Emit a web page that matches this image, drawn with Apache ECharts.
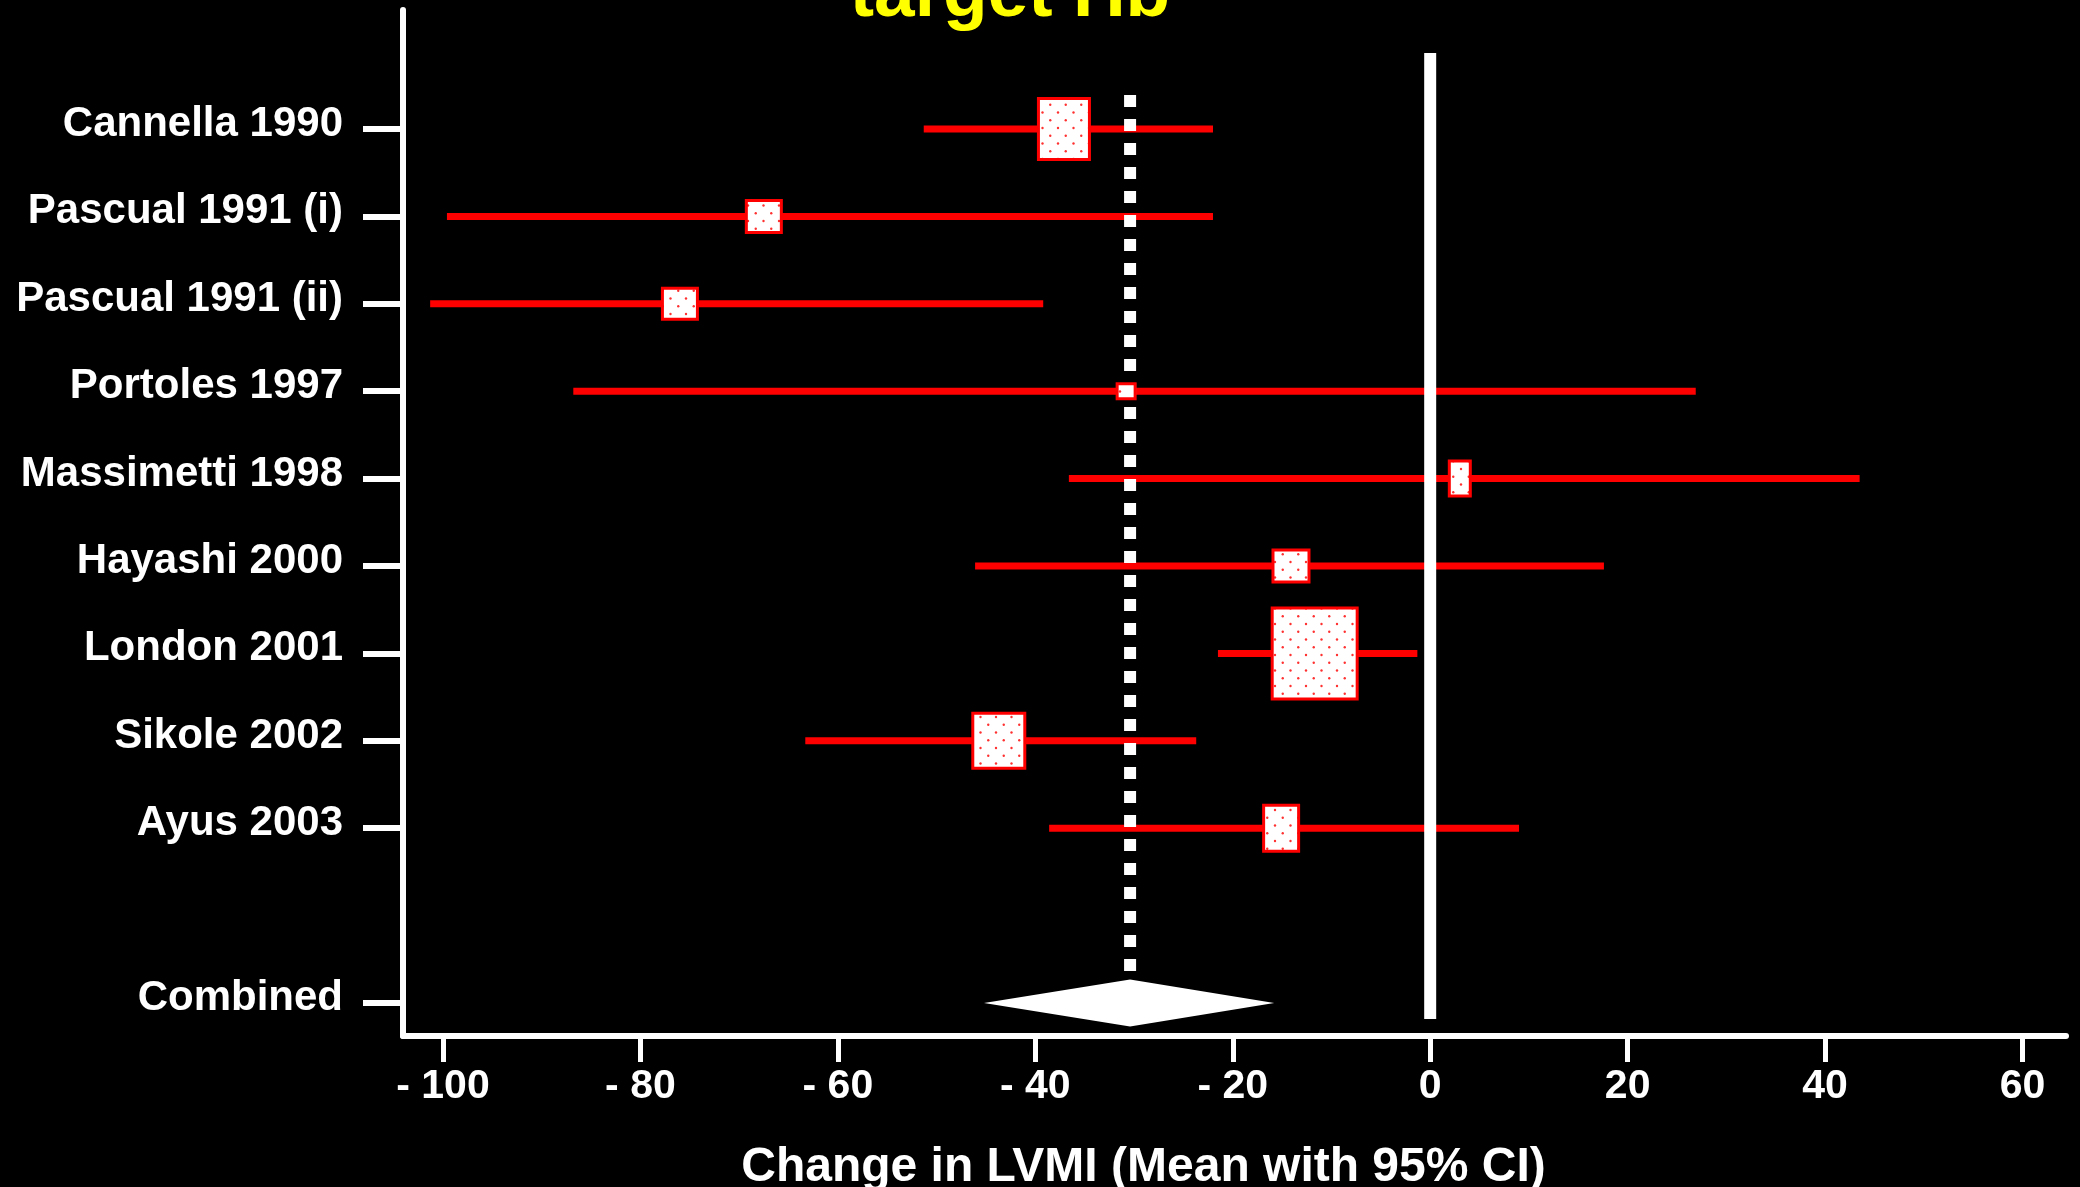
<!DOCTYPE html>
<html>
<head>
<meta charset="utf-8">
<script src="https://cdn.jsdelivr.net/npm/echarts@6/dist/echarts.min.js"></script>
<style>
  html, body { margin: 0; padding: 0; background: #000; }
  #chart { width: 2080px; height: 1187px; }
</style>
</head>
<body>
<div id="chart"></div>
<script>
// ---- Data -------------------------------------------------------------
// Study rows, top to bottom; the blank row separates the pooled estimate
const studies = ['Cannella 1990', 'Pascual 1991 (i)', 'Pascual 1991 (ii)', 'Portoles 1997',
  'Massimetti 1998', 'Hayashi 2000', 'London 2001', 'Sikole 2002', 'Ayus 2003'];
const rowLabels = [...studies, '', 'Combined'];

// Change in LVMI: mean and 95% confidence limits for each study
const meanChange = [-37.1, -67.5, -76.0, -30.8, 3.0, -14.1, -11.7, -43.7, -15.1];
const ciLower    = [-51.3, -99.6, -101.3, -86.8, -36.6, -46.1, -21.5, -63.3, -38.6];
const ciUpper    = [-22.0, -22.0, -39.2, 26.9, 43.5, 17.6, -1.3, -23.7, 9.0];

// Pooled estimate: mean, lower, upper
const combinedMean = -30.4;
const combinedLower = -45.2;
const combinedUpper = -15.8;

const xTickValues = [-100, -80, -60, -40, -20, 0, 20, 40, 60];

// ---- Layout & styling -------------------------------------------------
const FONT = '"Liberation Sans", Arial, sans-serif';
const RED = '#ff0000';
const LAYOUT = {
  plotLeft: 403, plotRight: 2066, plotTop: 10, axisY: 1036,
  row0: 129, rowStep: 87.4,
  xPxMinus100: 443, xPx60: 2022.5,
  zeroTop: 53, zeroBottom: 1019,
  pooledTop: 95, pooledBottom: 972,
  diamondHalf: 23.5
};
// weight boxes drawn for each study, [width, height] in px
const boxPx = [[51, 61], [35, 32], [35, 31], [18, 15], [21, 35], [36, 32], [85, 91], [52, 55], [35, 46]];

const pxPerUnit = (LAYOUT.xPx60 - LAYOUT.xPxMinus100) / 160;
const xMin = -100 - (LAYOUT.xPxMinus100 - LAYOUT.plotLeft) / pxPerUnit;
const xMax = 60 + (LAYOUT.plotRight - LAYOUT.xPx60) / pxPerUnit;
const toRow = px => (px - LAYOUT.row0) / LAYOUT.rowStep;
const rowMin = toRow(LAYOUT.plotTop);
const rowMax = toRow(LAYOUT.axisY);
const combinedRow = rowLabels.indexOf('Combined');

// stippled fill used inside the study boxes
function stipple() {
  const c = document.createElement('canvas');
  c.width = 31; c.height = 31;
  const g = c.getContext('2d');
  g.fillStyle = '#ffffff';
  g.fillRect(0, 0, 31, 31);
  g.fillStyle = '#ff3030';
  [[4, 4], [19.5, 4], [11.75, 11.75], [27.25, 11.75], [4, 19.5], [19.5, 19.5], [11.75, 27.25], [27.25, 27.25]]
    .forEach(([x, y]) => { g.beginPath(); g.arc(x, y, 1.2, 0, Math.PI * 2); g.fill(); });
  return c;
}
const stippleFill = { image: stipple(), repeat: 'repeat' };

const chart = echarts.init(document.getElementById('chart'), null, { renderer: 'canvas' });

chart.setOption({
  backgroundColor: '#000',
  animation: false,
  graphic: [{
    type: 'text', x: 1010, y: -4, z: 10,
    style: {
      text: 'target Hb', fill: '#ffff00',
      font: 'bold 73px ' + FONT,
      align: 'center', verticalAlign: 'middle'
    }
  }],
  grid: [
    { left: LAYOUT.plotLeft, right: 2080 - LAYOUT.plotRight, top: LAYOUT.plotTop,
      bottom: 1187 - LAYOUT.axisY, outerBoundsMode: 'none', containLabel: false },
    { left: LAYOUT.plotLeft, right: 2080 - LAYOUT.plotRight,
      top: LAYOUT.row0 - LAYOUT.rowStep / 2, height: LAYOUT.rowStep * rowLabels.length,
      outerBoundsMode: 'none', containLabel: false }
  ],
  xAxis: [
    {
      type: 'value', gridIndex: 0, min: xMin, max: xMax, position: 'bottom',
      axisLine: { show: true, onZero: false, lineStyle: { color: '#fff', width: 6 } },
      axisTick: { show: true, customValues: xTickValues, length: 26, inside: false,
        lineStyle: { color: '#fff', width: 5 } },
      axisLabel: {
        customValues: xTickValues, margin: 30, color: '#fff',
        fontSize: 41, fontWeight: 'bold', fontFamily: FONT,
        formatter: v => (v < 0 ? '- ' + Math.abs(v) : String(v))
      },
      splitLine: { show: false },
      name: 'Change in LVMI (Mean with 95% CI)',
      nameLocation: 'middle', nameGap: 108,
      nameTextStyle: { color: '#fff', fontSize: 48, fontWeight: 'bold', fontFamily: FONT,
        padding: [0, 182, 0, 0] }
    },
    { type: 'value', gridIndex: 1, min: xMin, max: xMax, show: false }
  ],
  yAxis: [
    {
      type: 'value', gridIndex: 0, min: rowMin, max: rowMax, inverse: true, position: 'left',
      axisLine: { show: true, onZero: false, lineStyle: { color: '#fff', width: 6 } },
      axisTick: { show: false }, axisLabel: { show: false }, splitLine: { show: false }
    },
    {
      type: 'category', gridIndex: 1, data: rowLabels, inverse: true, position: 'left',
      axisLine: { show: false, onZero: false },
      axisTick: { show: true, alignWithLabel: true, length: 40,
        interval: (i, v) => v !== '',
        lineStyle: { color: '#fff', width: 6 } },
      axisLabel: { color: '#fff', fontSize: 42, fontWeight: 'bold', fontFamily: FONT,
        margin: 60, verticalAlign: 'bottom', lineHeight: 9, interval: 0 },
      splitLine: { show: false }
    }
  ],
  series: [
    // confidence intervals
    {
      type: 'custom', xAxisIndex: 0, yAxisIndex: 0, z: 2,
      data: studies.map((s, i) => [ciLower[i], ciUpper[i], i]),
      encode: { x: [0, 1], y: 2 },
      renderItem: (params, api) => {
        const a = api.coord([api.value(0), api.value(2)]);
        const b = api.coord([api.value(1), api.value(2)]);
        return { type: 'line', shape: { x1: a[0], y1: a[1], x2: b[0], y2: b[1] },
          style: { stroke: RED, lineWidth: 7 } };
      }
    },
    // line of no effect
    {
      type: 'custom', xAxisIndex: 0, yAxisIndex: 0, z: 3,
      data: [[0, toRow(LAYOUT.zeroTop), toRow(LAYOUT.zeroBottom)]],
      encode: { x: 0, y: [1, 2] },
      renderItem: (params, api) => {
        const a = api.coord([api.value(0), api.value(1)]);
        const b = api.coord([api.value(0), api.value(2)]);
        return { type: 'line', shape: { x1: a[0], y1: a[1], x2: b[0], y2: b[1] },
          style: { stroke: '#fff', lineWidth: 12 } };
      }
    },
    // pooled mean, dotted
    {
      type: 'custom', xAxisIndex: 0, yAxisIndex: 0, z: 3,
      data: [[combinedMean, toRow(LAYOUT.pooledTop), toRow(LAYOUT.pooledBottom)]],
      encode: { x: 0, y: [1, 2] },
      renderItem: (params, api) => {
        const a = api.coord([api.value(0), api.value(1)]);
        const b = api.coord([api.value(0), api.value(2)]);
        return { type: 'line', shape: { x1: a[0], y1: a[1], x2: b[0], y2: b[1] },
          style: { stroke: '#fff', lineWidth: 12, lineDash: [12, 12], lineCap: 'butt' } };
      }
    },
    // study means as weighted boxes
    {
      type: 'custom', xAxisIndex: 0, yAxisIndex: 0, z: 4,
      data: studies.map((s, i) => [meanChange[i], i]),
      encode: { x: 0, y: 1 },
      renderItem: (params, api) => {
        const c = api.coord([api.value(0), api.value(1)]);
        const [w, h] = boxPx[params.dataIndex];
        return { type: 'rect', shape: { x: c[0] - w / 2, y: c[1] - h / 2, width: w, height: h },
          style: { fill: stippleFill, stroke: RED, lineWidth: 3 } };
      }
    },
    // pooled estimate diamond
    {
      type: 'custom', xAxisIndex: 0, yAxisIndex: 0, z: 5,
      data: [[combinedLower, combinedMean, combinedUpper, combinedRow]],
      encode: { x: [0, 1, 2], y: 3 },
      renderItem: (params, api) => {
        const lo = api.coord([api.value(0), api.value(3)]);
        const m = api.coord([api.value(1), api.value(3)]);
        const hi = api.coord([api.value(2), api.value(3)]);
        const d = LAYOUT.diamondHalf;
        return { type: 'polygon',
          shape: { points: [[lo[0], m[1]], [m[0], m[1] - d], [hi[0], m[1]], [m[0], m[1] + d]] },
          style: { fill: '#fff' } };
      }
    }
  ]
});
</script>
</body>
</html>
